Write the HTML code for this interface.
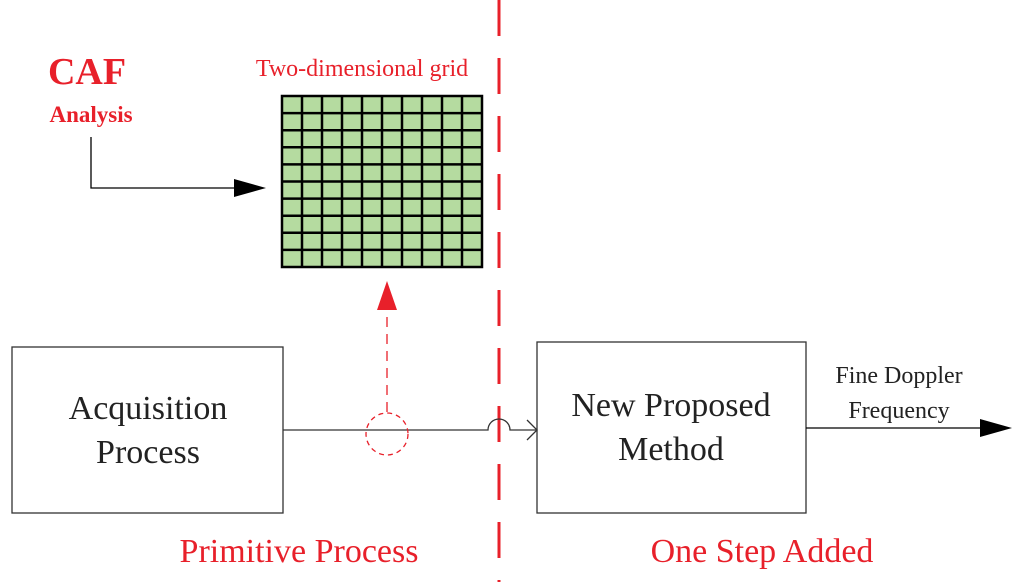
<!DOCTYPE html>
<html><head><style>body{margin:0;background:#fff}</style></head><body>
<svg width="1024" height="582" viewBox="0 0 1024 582" xmlns="http://www.w3.org/2000/svg" style="display:block">
<g fill="#b5dba0" stroke="#000" stroke-width="2.5">
<rect x="282" y="96" width="200" height="171"/>
</g>
<g stroke="#000" stroke-width="2.5">
<line x1="302" y1="96" x2="302" y2="267"/><line x1="322" y1="96" x2="322" y2="267"/><line x1="342" y1="96" x2="342" y2="267"/><line x1="362" y1="96" x2="362" y2="267"/><line x1="382" y1="96" x2="382" y2="267"/><line x1="402" y1="96" x2="402" y2="267"/><line x1="422" y1="96" x2="422" y2="267"/><line x1="442" y1="96" x2="442" y2="267"/><line x1="462" y1="96" x2="462" y2="267"/>
<line x1="282" y1="113.1" x2="482" y2="113.1"/><line x1="282" y1="130.2" x2="482" y2="130.2"/><line x1="282" y1="147.3" x2="482" y2="147.3"/><line x1="282" y1="164.4" x2="482" y2="164.4"/><line x1="282" y1="181.5" x2="482" y2="181.5"/><line x1="282" y1="198.6" x2="482" y2="198.6"/><line x1="282" y1="215.7" x2="482" y2="215.7"/><line x1="282" y1="232.8" x2="482" y2="232.8"/><line x1="282" y1="249.9" x2="482" y2="249.9"/>
</g>
<line x1="499" y1="0" x2="499" y2="582" stroke="#e8202a" stroke-width="3" stroke-dasharray="36,22"/>
<polyline points="91,137 91,188 240,188" fill="none" stroke="#000" stroke-width="1.3"/>
<polygon points="266,188 234,179 234,197" fill="#000"/>
<rect x="12" y="347" width="271" height="166" fill="none" stroke="#333" stroke-width="1.3"/>
<rect x="537" y="342" width="269" height="171" fill="none" stroke="#333" stroke-width="1.3"/>
<path d="M283,430 H488 A11,11 0 0 1 510,430 H536" fill="none" stroke="#333" stroke-width="1.3"/>
<polyline points="527,420 537,430 527,440" fill="none" stroke="#333" stroke-width="1.3"/>
<line x1="806" y1="428" x2="985" y2="428" stroke="#000" stroke-width="1.3"/>
<polygon points="1012,428 980,419 980,437" fill="#000"/>
<circle cx="387" cy="434" r="21" fill="none" stroke="#e8202a" stroke-width="1.3" stroke-dasharray="5,4"/>
<line x1="387" y1="412" x2="387" y2="310" stroke="#e8202a" stroke-width="1.3" stroke-dasharray="10,7"/>
<polygon points="387,281 377,310 397,310" fill="#e8202a"/>
<g font-family="Liberation Serif, serif">
<text x="87" y="84" text-anchor="middle" font-size="38" font-weight="bold" fill="#e8202a">CAF</text>
<text x="91" y="122" text-anchor="middle" font-size="23" font-weight="bold" fill="#e8202a">Analysis</text>
<text x="362" y="76" text-anchor="middle" font-size="24" fill="#e8202a">Two-dimensional grid</text>
<text x="148" y="419" text-anchor="middle" font-size="34" fill="#222">Acquisition</text>
<text x="148" y="463" text-anchor="middle" font-size="34" fill="#222">Process</text>
<text x="671" y="416" text-anchor="middle" font-size="34" fill="#222">New Proposed</text>
<text x="671" y="460" text-anchor="middle" font-size="34" fill="#222">Method</text>
<text x="899" y="383" text-anchor="middle" font-size="24" fill="#222">Fine Doppler</text>
<text x="899" y="418" text-anchor="middle" font-size="24" fill="#222">Frequency</text>
<text x="299" y="562" text-anchor="middle" font-size="34" fill="#e8202a">Primitive Process</text>
<text x="762" y="562" text-anchor="middle" font-size="34" fill="#e8202a">One Step Added</text>
</g>
</svg>
</body></html>
